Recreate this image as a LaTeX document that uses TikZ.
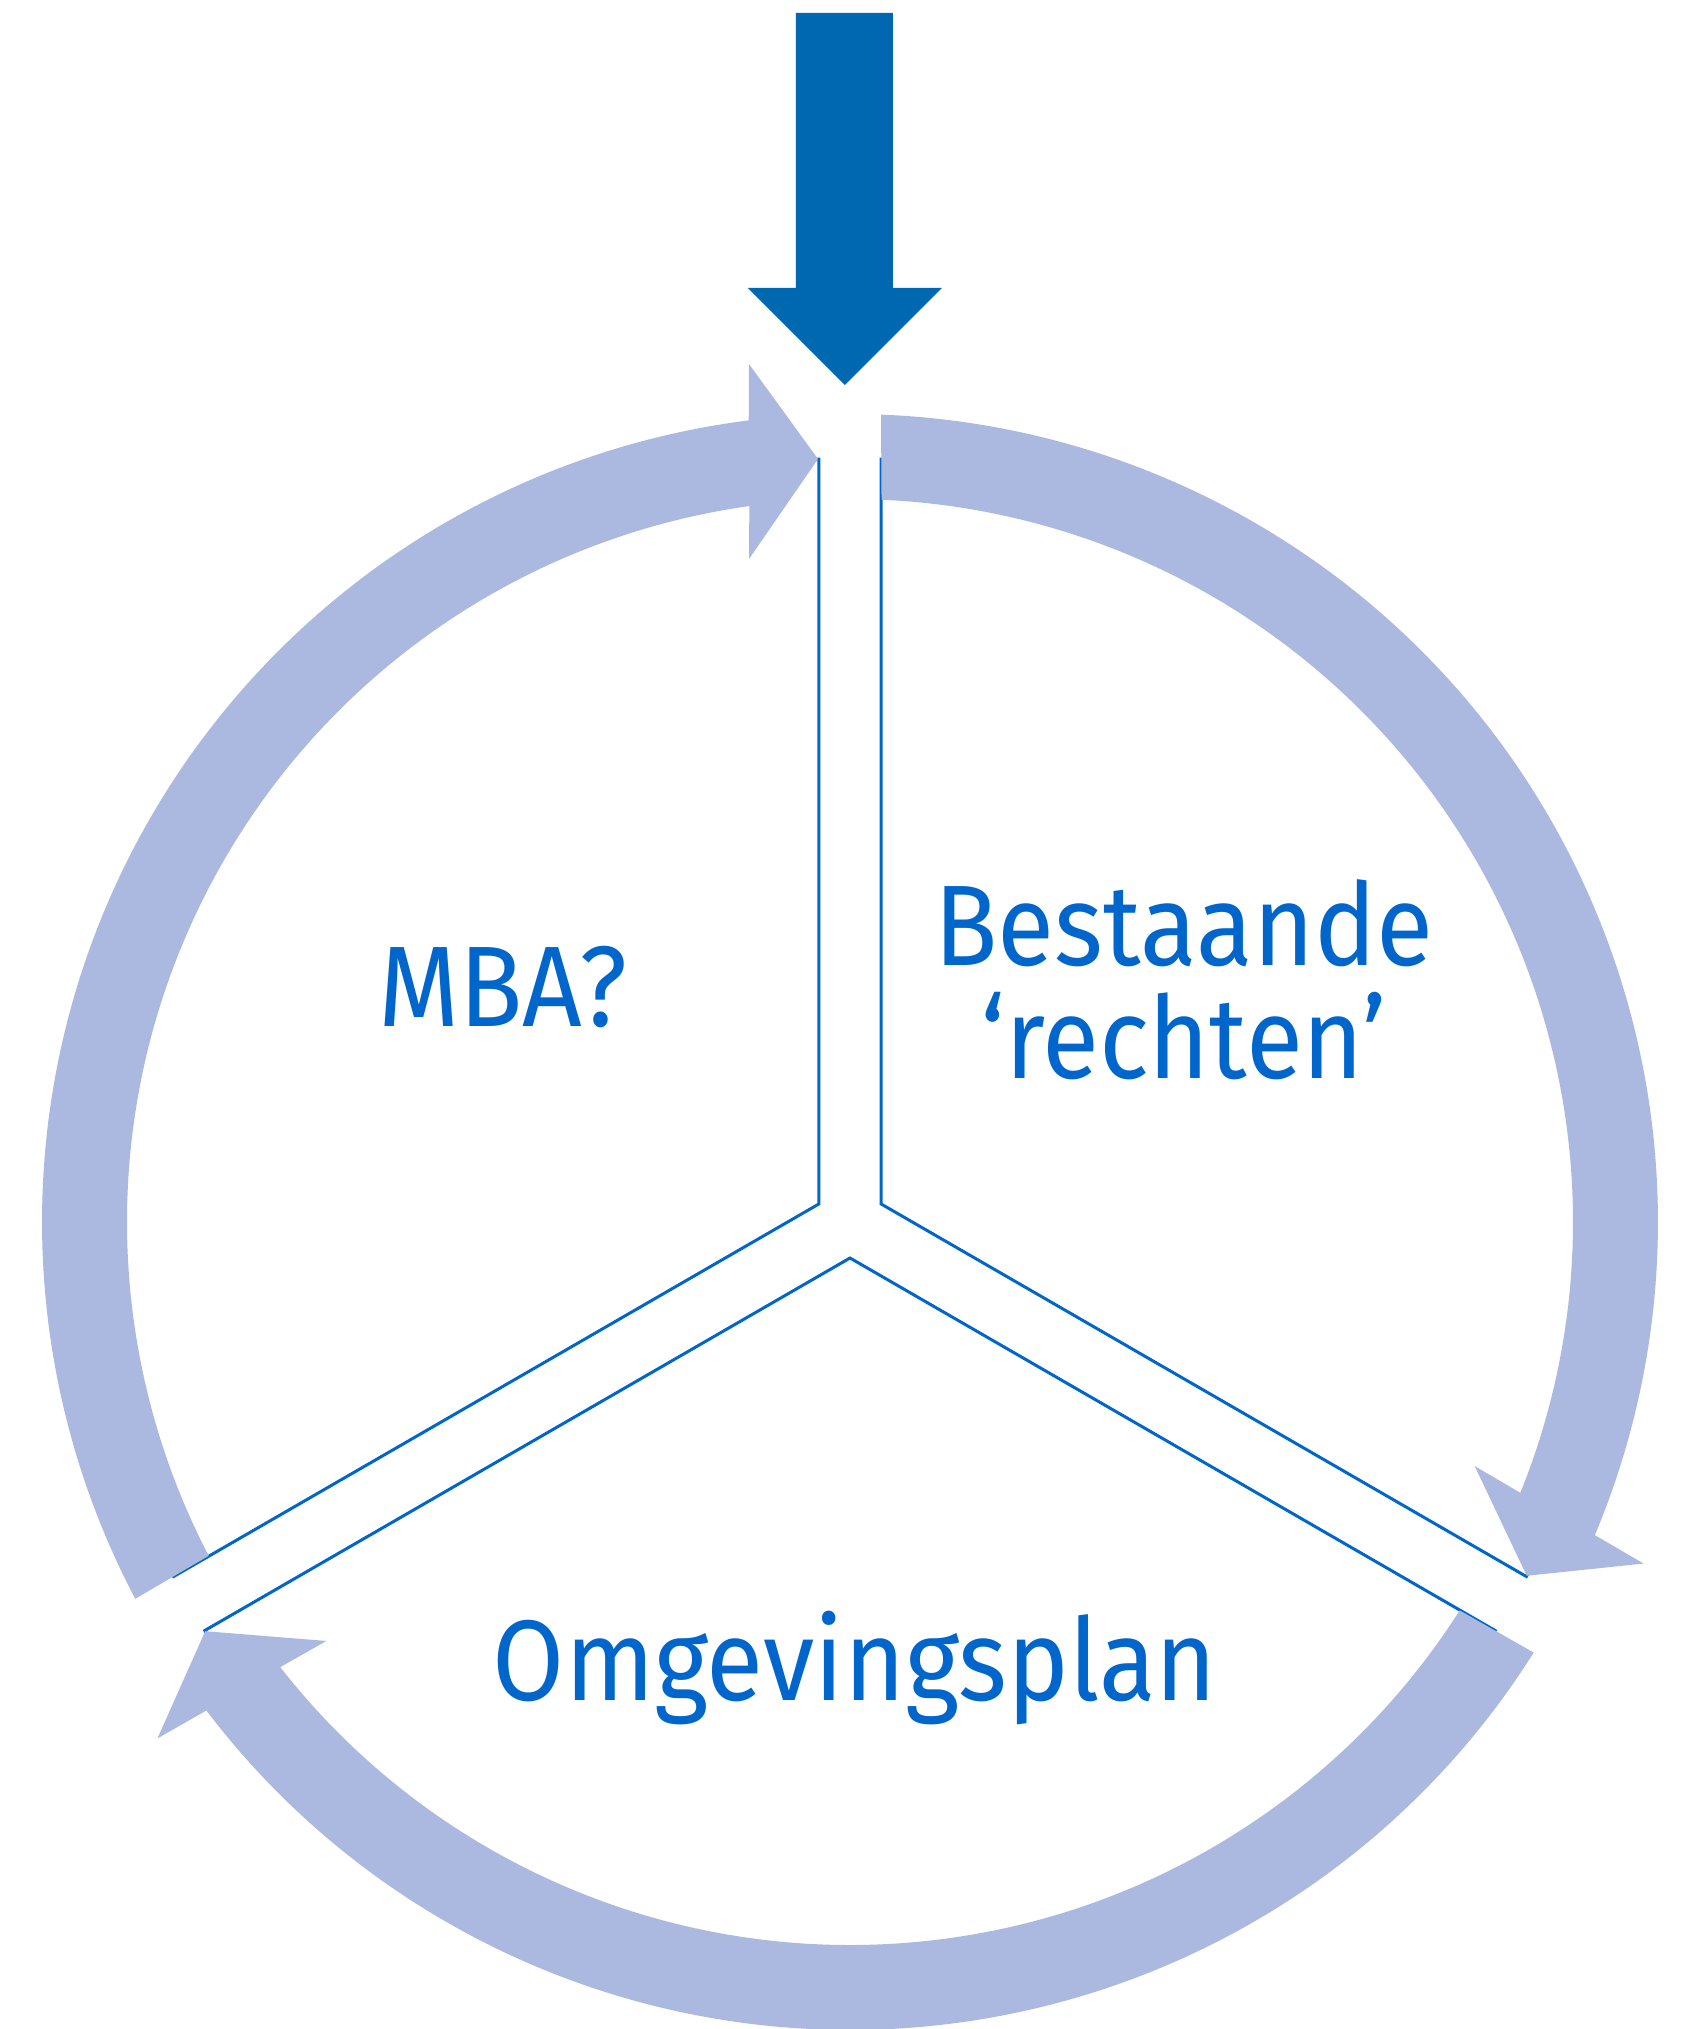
\documentclass[tikz,border=0pt]{standalone}
\usepackage{fontspec}
\setmainfont{Fira Sans}[FakeStretch=0.91]
\usetikzlibrary{calc,positioning}
\definecolor{ringblue}{RGB}{171,185,224}
\definecolor{inblue}{RGB}{0,104,176}
\definecolor{txtblue}{RGB}{0,102,204}
\tikzstyle{lbl}=[text=txtblue,font=\fontsize{32.6pt}{31.9pt}\selectfont,inner sep=0,align=center]

\begin{document}
\begin{tikzpicture}[
    x=0.1mm,y=0.1mm,
    sector/.style={draw=txtblue,line width=0.85pt,fill=white},
    ring/.style={fill=ringblue}
    ]
    \useasboundingbox (-850,-807) rectangle (837,1222);

    % incoming arrow
    \fill[inblue] (-54,1209) -- (43,1209) -- (43,934) -- (92,934) -- (-5,837)
      -- (-102,934) -- (-54,934) -- cycle;

    % sectors
    \foreach \a in {150,30,270} {
      \draw[sector] (\a:36) -- ++(\a-60:745)
        arc[start angle=\a-60,end angle=\a+60,radius=745] -- cycle;
    }

    % cycle arrows
    \foreach \r in {0,-120,-240} {
      \fill[ring,rotate=\r] (207.8:808) arc[start angle=207.8,end angle=97.2,radius=808]
        -- (-101,858) -- (-32,763) -- (-101,663)
        -- (98.0:723) arc[start angle=98.0,end angle=207.5,radius=723] -- cycle;
    }

    % labels
    \node[lbl,anchor=base] (mba) at (-347,196) {MBA?};
    \node[lbl,anchor=base] (rechten) at (334,144) {Bestaande\\‘rechten’};
    \node[lbl,anchor=base] (plan) at (5,-478) {Omgevingsplan};

\end{tikzpicture}
\end{document}
